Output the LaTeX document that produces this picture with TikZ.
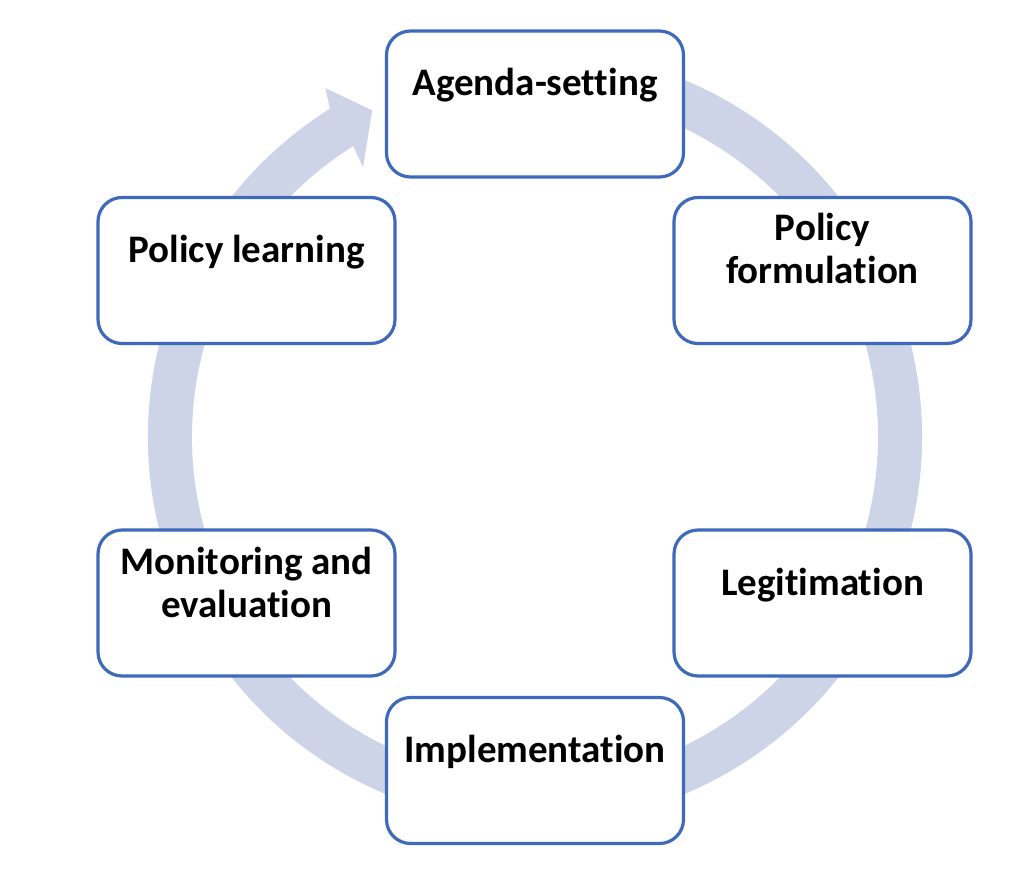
\documentclass[tikz,border=0pt]{standalone}
\usepackage{fontspec}
\setmainfont{Carlito}[Ligatures={NoCommon}]
\definecolor{ringc}{RGB}{205,212,232}
\definecolor{boxc}{RGB}{62,106,185}
\begin{document}
\begin{tikzpicture}[x=1bp,y=1bp,
  stage/.style={draw=boxc, line width=3.2bp, fill=white, rounded corners=24bp,
    minimum width=297bp, minimum height=146bp, inner sep=0pt},
  stagetext/.style={font=\fontsize{39bp}{43bp}\selectfont\bfseries,
    align=center, anchor=base, inner sep=0pt}]
\useasboundingbox (0,0) rectangle (1026,-892);
% cycle ring with arrow head
\begin{scope}[shift={(535,-437)}]
  \fill[ringc] (70:387) arc[start angle=70, end angle=-238, radius=387]
    -- (-239:407) -- (-243.5:365) -- (-237.5:320) -- (-238:343)
    arc[start angle=-238, end angle=70, radius=343] -- cycle;
\end{scope}
% boxes
\node[stage] (as) at (535,-104) {};
\node[stagetext] (ast) at (535,-95) {Agenda-setting};
\node[stage] (pf) at (822.5,-270.5) {};
\node[stagetext] (pft) at (822.5,-283) {Policy\\formulation};
\node[stage] (lg) at (822.5,-603) {};
\node[stagetext] (lgt) at (822.5,-595) {Legitimation};
\node[stage] (im) at (535,-770.5) {};
\node[stagetext] (imt) at (535,-762) {Implementation};
\node[stage] (me) at (246.5,-603) {};
\node[stagetext] (met) at (246.5,-617) {Monitoring and\\evaluation};
\node[stage] (pl) at (246.5,-270.5) {};
\node[stagetext] (plt) at (246.5,-262) {Policy learning};
\end{tikzpicture}
\end{document}
